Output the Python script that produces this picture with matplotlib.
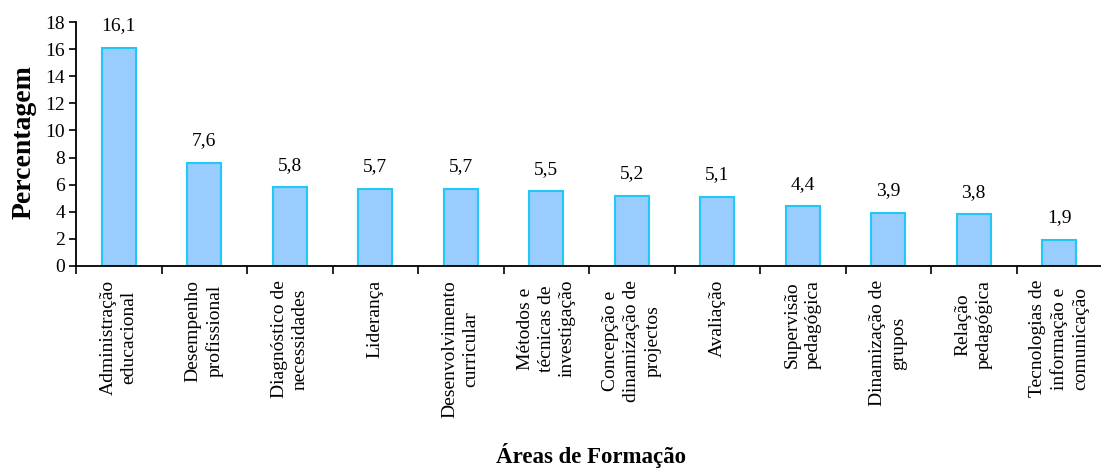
import matplotlib
matplotlib.use("Agg")
import matplotlib.pyplot as plt
import numpy as np

categories = [
    "Administração\neducacional",
    "Desempenho\nprofissional",
    "Diagnóstico de\nnecessidades",
    "Liderança",
    "Desenvolvimento\ncurricular",
    "Métodos e\ntécnicas de\ninvestigação",
    "Concepção e\ndinamização de\nprojectos",
    "Avaliação",
    "Supervisão\npedagógica",
    "Dinamização de\ngrupos",
    "Relação\npedagógica",
    "Tecnologias de\ninformação e\ncomunicação",
]
values = [16.1, 7.6, 5.8, 5.7, 5.7, 5.5, 5.2, 5.1, 4.4, 3.9, 3.8, 1.9]
value_labels = ["16,1", "7,6", "5,8", "5,7", "5,7", "5,5", "5,2", "5,1", "4,4", "3,9", "3,8", "1,9"]
yticks = [0, 2, 4, 6, 8, 10, 12, 14, 16, 18]

plt.rcParams['font.family'] = ['Liberation Serif', 'DejaVu Serif']

fig = plt.figure(figsize=(11.01, 4.70), dpi=100)
ax = fig.add_axes([76/1101, 1 - 266/470, 1026/1101, (266 - 22)/470])

x = np.arange(len(categories))
ax.bar(x, values, width=0.4, color='#99CCFF', edgecolor='#1FC8F5', linewidth=1.5, zorder=2)

for xi, v, lab in zip(x, values, value_labels):
    ax.annotate(lab, (xi, v), xytext=(0, 16), textcoords='offset points',
                ha='center', va='center', fontsize=14)

ax.set_xlim(-0.5, len(categories) - 0.5)
ax.set_ylim(0, 18)
ax.set_yticks(yticks)
ax.set_yticklabels([str(t) for t in yticks], fontsize=14)

ax.set_xticks(np.arange(len(categories) + 1) - 0.5)
ax.set_xticklabels([])
ax.tick_params(axis='x', which='major', direction='out', length=6, width=1.2, color='black')
ax.tick_params(axis='y', direction='out', length=5, width=1.2, pad=3)

ax.set_xticks(x, minor=True)
ax.set_xticklabels(categories, minor=True, rotation=90, fontsize=14,
                   ha='center', va='top', multialignment='center', linespacing=1.3)
ax.tick_params(axis='x', which='minor', length=0, pad=10)

for s in ['top', 'right']:
    ax.spines[s].set_visible(False)
for s in ['left', 'bottom']:
    ax.spines[s].set_linewidth(1.3)

fig.text(24/1101, 1 - 142/470, "Percentagem", rotation=90, ha='center', va='center',
         fontsize=20, fontweight='bold')
fig.text(591/1101, 1 - 455/470, "Áreas de Formação", ha='center', va='center',
         fontsize=16.5, fontweight='bold')

fig.savefig("out.png", dpi=100)
